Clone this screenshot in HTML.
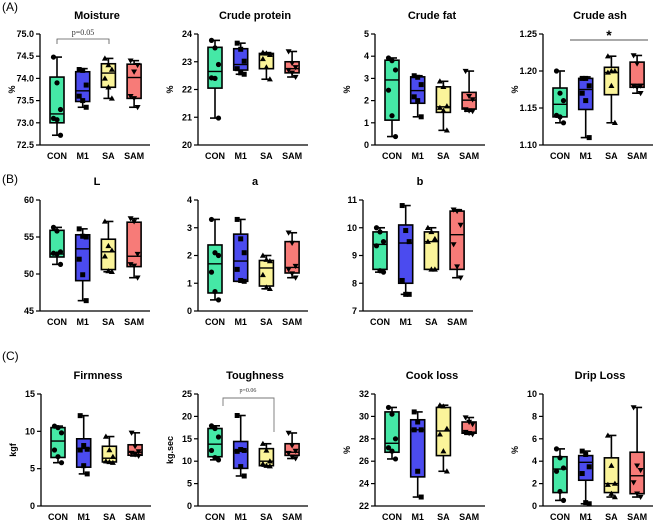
<!DOCTYPE html>
<html><head><meta charset="utf-8">
<style>
html,body{margin:0;padding:0;background:#fff;}
svg{display:block;font-family:"Liberation Sans",Arial,sans-serif;}
.tick{font-size:9px;font-weight:bold;fill:#000;}
.title{font-size:11px;font-weight:bold;fill:#000;}
</style></head>
<body>
<svg id="fig" width="669" height="521" viewBox="0 0 669 521"></svg>
<script>
// ===== data =====
const groups = ["CON","M1","SA","SAM"];
const moistureBoxes = [[72.72,73.0,73.2,74.03,74.48],[73.35,73.48,73.72,74.15,74.22],[73.55,73.8,74.12,74.33,74.45],[73.35,73.55,74.02,74.32,74.4]];
const moisturePts = [[74.48,73.9,73.3,73.1,73.07,72.72],[74.2,74.18,73.85,73.6,73.5,73.35],[74.45,74.3,74.2,74.0,73.8,73.55],[74.4,74.15,74.3,73.6,73.55,73.35]];
const moistureTicks = [72.5,73.0,73.5,74.0,74.5,75.0];
const proteinBoxes = [[20.97,22.05,22.65,23.52,23.77],[22.55,22.7,22.9,23.47,23.67],[22.37,22.75,23.25,23.3,23.33],[22.45,22.6,22.75,23.0,23.37]];
const proteinPts = [[23.77,23.5,22.9,22.42,22.4,20.97],[23.67,23.45,23.02,22.75,22.6,22.55],[23.33,23.3,23.25,23.1,22.8,22.37],[23.37,22.95,22.8,22.7,22.6,22.45]];
const proteinTicks = [20,21,22,23,24];
const fatBoxes = [[0.38,1.12,2.93,3.82,3.92],[1.27,1.88,2.45,3.07,3.12],[0.66,1.47,1.72,2.62,2.87],[1.52,1.62,2.02,2.37,3.33]];
const fatPts = [[3.92,3.8,3.38,2.47,1.32,0.38],[3.12,3.05,2.72,2.17,2.0,1.27],[2.87,2.62,1.75,1.68,1.55,0.66],[3.33,2.2,2.05,1.6,1.55,1.52]];
const fatTicks = [0,1,2,3,4,5];
const ashBoxes = [[1.13,1.138,1.155,1.177,1.20],[1.11,1.148,1.175,1.19,1.192],[1.13,1.168,1.198,1.205,1.22],[1.17,1.178,1.182,1.212,1.221]];
const ashPts = [[1.20,1.17,1.16,1.14,1.138,1.13],[1.19,1.19,1.18,1.17,1.16,1.11],[1.22,1.20,1.20,1.198,1.18,1.13],[1.221,1.21,1.18,1.18,1.178,1.17]];
const ashTicks = [1.10,1.15,1.20,1.25];
const lBoxes = [[51.3,52.3,52.7,55.9,56.3],[46.4,49.1,53.4,55.3,56.1],[50.3,50.6,53.0,54.7,57.1],[49.5,51.0,52.4,57.0,57.5]];
const lPts = [[56.3,55.8,53.0,52.8,52.7,51.3],[56.1,55.1,55.0,52.0,49.9,46.4],[57.1,53.8,53.2,52.4,50.4,50.3],[57.5,57.1,52.7,51.3,51.1,49.5]];
const lTicks = [45,50,55,60];
const aBoxes = [[0.4,0.65,1.7,2.38,3.3],[1.07,1.07,1.8,2.77,3.3],[0.8,0.9,1.55,1.82,2.0],[1.2,1.37,1.57,2.5,2.82]];
const aPts = [[3.3,2.1,2.0,1.4,0.7,0.4],[3.3,2.6,2.1,1.5,1.1,1.07],[2.0,1.85,1.8,1.3,0.85,0.8],[2.82,2.45,1.62,1.5,1.35,1.2]];
const aTicks = [0,1,2,3,4];
const bBoxes = [[8.4,8.5,9.4,9.85,10.0],[7.6,8.0,9.45,10.1,10.8],[8.5,8.5,9.5,9.85,10.0],[8.2,8.5,9.75,10.6,10.65]];
const bPts = [[10.0,9.85,9.5,9.35,8.45,8.4],[10.8,9.9,9.5,8.1,7.6,7.6],[10.0,9.85,9.6,9.5,8.5,8.5],[10.65,10.6,10.1,9.4,8.6,8.2]];
const bTicks = [7,8,9,10,11];
const firmBoxes = [[5.8,6.5,8.7,10.5,10.7],[4.3,5.2,7.7,9.0,12.1],[5.8,5.9,6.4,8.0,9.3],[6.7,6.8,7.2,8.2,9.8]];
const firmPts = [[10.7,10.5,9.8,7.5,6.6,5.8],[12.1,8.1,7.6,7.5,5.4,4.3],[9.3,7.5,6.6,6.0,5.9,5.8],[9.8,8.0,7.3,7.1,6.9,6.7]];
const firmTicks = [0,5,10,15];
const toughBoxes = [[10.3,11.0,13.8,17.3,17.9],[6.7,8.4,12.3,14.4,20.2],[8.9,9.0,10.0,12.8,13.9],[10.6,11.3,12.0,13.9,16.3]];
const toughPts = [[17.9,17.3,15.4,12.4,10.8,10.3],[20.2,12.6,12.4,12.2,8.8,6.7],[13.9,12.4,10.0,9.4,9.0,8.9],[16.3,13.5,12.3,11.8,11.0,10.6]];
const toughTicks = [0,5,10,15,20,25];
const cookBoxes = [[26.2,26.8,27.6,30.4,30.8],[22.8,24.6,28.8,29.7,30.4],[25.1,26.5,28.7,30.8,31.0],[28.4,28.5,28.6,29.5,29.9]];
const cookPts = [[30.8,30.2,28.0,27.2,26.9,26.2],[30.4,29.5,28.8,28.8,25.1,22.8],[31.0,30.9,28.9,28.4,26.9,25.1],[29.9,29.5,29.3,28.6,28.5,28.4]];
const cookTicks = [22,24,26,28,30,32];
const dripBoxes = [[0.5,1.2,3.3,4.4,5.1],[0.2,2.3,3.9,4.5,4.9],[0.8,1.2,2.0,4.3,6.3],[0.8,1.1,2.7,4.8,8.8]];
const dripPts = [[5.1,4.3,3.4,3.1,1.3,0.5],[4.9,4.6,3.5,2.9,0.3,0.2],[6.3,3.6,2.0,1.9,1.1,0.8],[8.8,3.6,3.2,2.1,1.1,0.8]];
const dripTicks = [0,2,4,6,8,10];

const colors = ["#45e8a6","#4b4bef","#fbf49a","#f77b78"];
const NS = "http://www.w3.org/2000/svg";
const svg = document.getElementById("fig");
function mk(tag, attrs, parent){const e=document.createElementNS(NS,tag);for(const k in attrs)e.setAttribute(k,attrs[k]);(parent||svg).appendChild(e);return e;}

const panels = [
 {name:"moisture",title:"Moisture",ylab:"%",ax:40,top:34,bot:145,boxes:moistureBoxes,pts:moisturePts,ticks:moistureTicks,dec:1},
 {name:"crude-protein",title:"Crude protein",ylab:"%",ax:198,top:34,bot:145,boxes:proteinBoxes,pts:proteinPts,ticks:proteinTicks,dec:0},
 {name:"crude-fat",title:"Crude fat",ylab:"%",ax:375,top:34,bot:145,boxes:fatBoxes,pts:fatPts,ticks:fatTicks,dec:0},
 {name:"crude-ash",title:"Crude ash",ylab:"%",ax:543,top:34,bot:145,boxes:ashBoxes,pts:ashPts,ticks:ashTicks,dec:2},
 {name:"l-value",title:"L",ylab:"",ax:40,top:200,bot:311,boxes:lBoxes,pts:lPts,ticks:lTicks,dec:0},
 {name:"a-value",title:"a",ylab:"",ax:198,top:200,bot:311,boxes:aBoxes,pts:aPts,ticks:aTicks,dec:0},
 {name:"b-value",title:"b",ylab:"",ax:363,top:200,bot:311,boxes:bBoxes,pts:bPts,ticks:bTicks,dec:0},
 {name:"firmness",title:"Firmness",ylab:"kgf",ax:41,top:394,bot:506,boxes:firmBoxes,pts:firmPts,ticks:firmTicks,dec:0},
 {name:"toughness",title:"Toughness",ylab:"kg.sec",ax:198,top:394,bot:506,boxes:toughBoxes,pts:toughPts,ticks:toughTicks,dec:0},
 {name:"cook-loss",title:"Cook loss",ylab:"%",ax:375,top:394,bot:506,boxes:cookBoxes,pts:cookPts,ticks:cookTicks,dec:0},
 {name:"drip-loss",title:"Drip Loss",ylab:"%",ax:543,top:394,bot:506,boxes:dripBoxes,pts:dripPts,ticks:dripTicks,dec:0}
];

function marker(g,shape,cx,cy){
  let e;
  if(shape===0) e=mk("circle",{cx:cx,cy:cy,r:2.6,fill:"#000"},g);
  else if(shape===1) e=mk("rect",{x:cx-2.5,y:cy-2.5,width:5,height:5,fill:"#000"},g);
  else if(shape===2) e=mk("polygon",{points:`${cx},${cy-3} ${cx-3},${cy+2.2} ${cx+3},${cy+2.2}`,fill:"#000"},g);
  else e=mk("polygon",{points:`${cx},${cy+3} ${cx-3},${cy-2.2} ${cx+3},${cy-2.2}`,fill:"#000"},g);
  
  
}

panels.forEach(p=>{
  const g=mk("g",{});
  
  
  const lo=p.ticks[0], hi=p.ticks[p.ticks.length-1];
  const y=v=>p.bot-(v-lo)/(hi-lo)*(p.bot-p.top);
  const x=i=>p.ax+17+i*25.7;
  const t=mk("text",{x:p.ax+57,y:p.top-15,"text-anchor":"middle",class:"title"},g);t.textContent=p.title;
  
  if(p.ylab){const yl=mk("text",{x:0,y:0,"text-anchor":"middle",class:"tick","font-size":"10",transform:`translate(${p.ax-25},${(p.top+p.bot)/2}) rotate(-90)`},g);yl.textContent=p.ylab;
    }
  const ya=mk("line",{x1:p.ax,y1:p.top,x2:p.ax,y2:p.bot,stroke:"#000","stroke-width":1.3},g);
  
  const xa=mk("line",{x1:p.ax,y1:p.bot,x2:p.ax+110,y2:p.bot,stroke:"#000","stroke-width":1.3},g);
  
  p.ticks.forEach(v=>{
    mk("line",{x1:p.ax-4,y1:y(v),x2:p.ax,y2:y(v),stroke:"#000","stroke-width":1.2},g);
    const tl=mk("text",{x:p.ax-6,y:y(v)+3,"text-anchor":"end",class:"tick"},g);tl.textContent=v.toFixed(p.dec);
    
  });
  groups.forEach((gn,i)=>{
    const b=p.boxes[i], cx=x(i), w=7;
    const bg=mk("g",{},g);
    
    
    mk("line",{x1:cx,y1:y(b[0]),x2:cx,y2:y(b[4]),stroke:"#000","stroke-width":1.6},bg);
    mk("line",{x1:cx-5,y1:y(b[0]),x2:cx+5,y2:y(b[0]),stroke:"#000","stroke-width":1.6},bg);
    mk("line",{x1:cx-5,y1:y(b[4]),x2:cx+5,y2:y(b[4]),stroke:"#000","stroke-width":1.6},bg);
    mk("rect",{x:cx-w,y:y(b[3]),width:2*w,height:Math.max(0.5,y(b[1])-y(b[3])),fill:colors[i],stroke:"#000","stroke-width":1.6},bg);
    mk("line",{x1:cx-w,y1:y(b[2]),x2:cx+w,y2:y(b[2]),stroke:"#000","stroke-width":1.4},bg);
    p.pts[i].forEach((v,k)=>{marker(bg,i,cx+((k%3)-1)*3.5,y(v));});
    const xl=mk("text",{x:cx,y:p.bot+14,"text-anchor":"middle",class:"tick"},g);xl.textContent=gn;
    
  });
});

function label(txt,xx,yy){const e=mk("text",{x:xx,y:yy,"font-size":"12"});e.textContent=txt;
  }
label("(A)",2,11);label("(B)",2,183);label("(C)",2,360);

let a=mk("path",{d:"M57,44 V39 H109 V44",fill:"none",stroke:"#555","stroke-width":0.8});

a=mk("text",{x:83,y:35,"text-anchor":"middle","font-size":"8","font-family":"Liberation Serif, serif",fill:"#333"});a.textContent="p=0.05";

a=mk("line",{x1:570,y1:40,x2:648,y2:40,stroke:"#555","stroke-width":0.9});

a=mk("text",{x:609,y:40,"text-anchor":"middle","font-size":"14","font-weight":"bold"});a.textContent="*";

a=mk("path",{d:"M223,406 V398 H274 V432",fill:"none",stroke:"#777","stroke-width":0.9});

a=mk("text",{x:248,y:392,"text-anchor":"middle","font-size":"6","font-family":"Liberation Serif, serif",fill:"#333"});a.textContent="p=0.06";

</script>
</body></html>
